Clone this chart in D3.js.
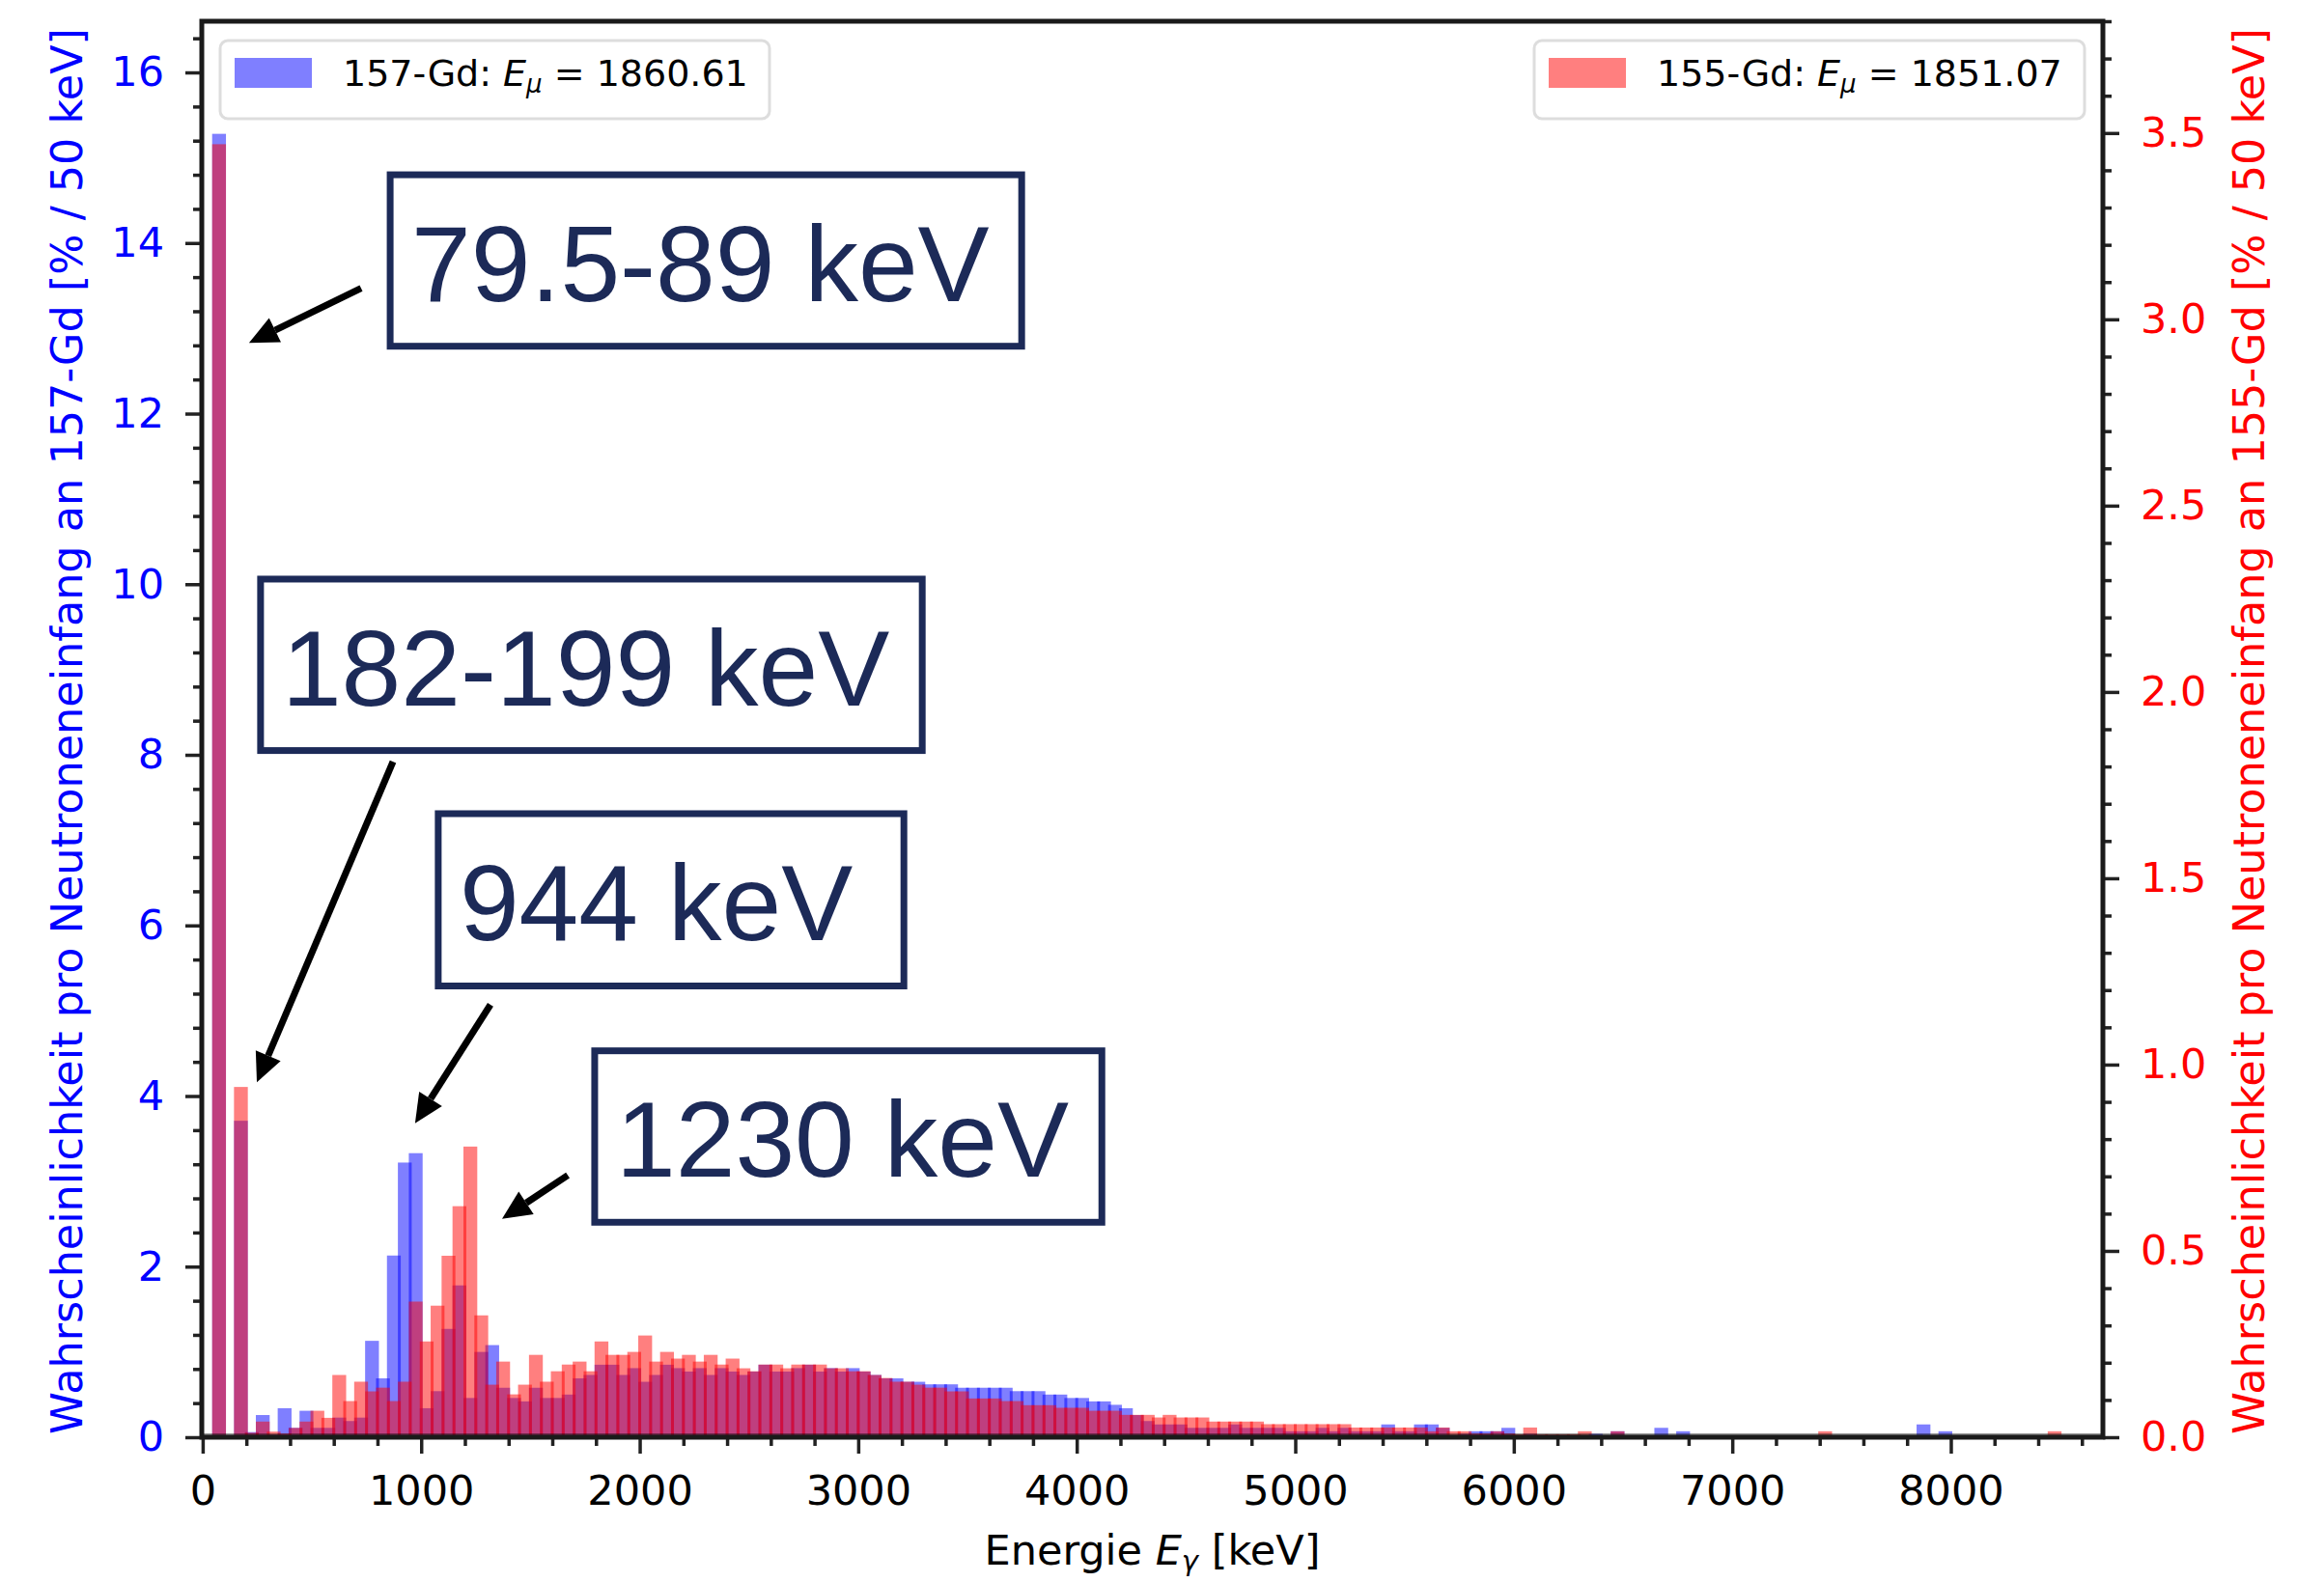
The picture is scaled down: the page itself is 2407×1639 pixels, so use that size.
<!DOCTYPE html>
<html lang="de">
<head>
<meta charset="UTF-8">
<title>Gd gamma spectrum</title>
<script src="https://d3js.org/d3.v7.min.js"></script>
<style>
  body { margin: 0; background: #fff; }
  text { font-family: "DejaVu Sans", sans-serif; }
</style>
</head>
<body>
<div id="chart"></div>
<script>
// 50 keV bins, index k covers [50k, 50k+50)
const binWidth = 50;

// 157-Gd, left axis [% / 50 keV]
const gd157 = [
  0, 15.28, 0.02, 3.71, 0.06, 0.26, 0.03, 0.34, 0.11, 0.31,
  0.11, 0.11, 0.23, 0.19, 0.23, 1.13, 0.69, 2.13, 3.22, 3.33,
  0.34, 0.54, 1.27, 1.78, 0.46, 1.00, 1.08, 0.58, 0.46, 0.42,
  0.58, 0.46, 0.46, 0.50, 0.69, 0.73, 0.85, 0.85, 0.73, 0.81,
  0.65, 0.73, 0.85, 0.81, 0.77, 0.81, 0.73, 0.81, 0.77, 0.73,
  0.77, 0.85, 0.77, 0.77, 0.81, 0.85, 0.77, 0.81, 0.77, 0.81,
  0.77, 0.73, 0.69, 0.69, 0.65, 0.65, 0.62, 0.62, 0.62, 0.58,
  0.58, 0.58, 0.58, 0.58, 0.54, 0.54, 0.54, 0.50, 0.50, 0.46,
  0.46, 0.42, 0.42, 0.38, 0.34, 0.26, 0.19, 0.15, 0.15, 0.15,
  0.11, 0.11, 0.11, 0.11, 0.15, 0.11, 0.11, 0.11, 0.11, 0.07,
  0.07, 0.07, 0.11, 0.07, 0.11, 0.07, 0.07, 0.07, 0.15, 0.07,
  0.07, 0.15, 0.15, 0.11, 0.02, 0.04, 0.07, 0.07, 0.07, 0.11,
  0.02, 0.04, 0.02, 0.02, 0.01, 0.02, 0.02, 0.04, 0.01, 0.07,
  0.01, 0.01, 0.01, 0.11, 0.01, 0.07, 0.01, 0.01, 0, 0,
  0, 0, 0, 0, 0, 0.02, 0.02, 0, 0, 0,
  0, 0, 0, 0, 0, 0, 0, 0.15, 0, 0.07,
  0, 0, 0, 0, 0, 0, 0, 0, 0, 0,
  0, 0, 0, 0
];

// 155-Gd, right axis [% / 50 keV]
const gd155 = [
  0, 3.47, 0.005, 0.94, 0.012, 0.042, 0.015, 0.01, 0.025, 0.042,
  0.071, 0.052, 0.167, 0.097, 0.149, 0.123, 0.133, 0.097, 0.149, 0.364,
  0.257, 0.353, 0.487, 0.62, 0.78, 0.327, 0.141, 0.203, 0.115, 0.141,
  0.221, 0.149, 0.177, 0.195, 0.203, 0.177, 0.257, 0.221, 0.221, 0.229,
  0.273, 0.203, 0.229, 0.211, 0.221, 0.203, 0.221, 0.195, 0.211, 0.185,
  0.177, 0.195, 0.195, 0.185, 0.195, 0.195, 0.195, 0.185, 0.185, 0.177,
  0.177, 0.167, 0.159, 0.149, 0.149, 0.141, 0.133, 0.133, 0.123, 0.123,
  0.104, 0.104, 0.104, 0.097, 0.097, 0.086, 0.086, 0.086, 0.079, 0.079,
  0.079, 0.071, 0.071, 0.071, 0.06, 0.06, 0.06, 0.053, 0.06, 0.053,
  0.053, 0.053, 0.042, 0.042, 0.042, 0.042, 0.042, 0.035, 0.035, 0.035,
  0.035, 0.035, 0.035, 0.035, 0.035, 0.026, 0.026, 0.026, 0.026, 0.026,
  0.026, 0.026, 0.016, 0.026, 0.016, 0.016, 0.01, 0.01, 0.016, 0.01,
  0.008, 0.026, 0.008, 0.008, 0.008, 0.008, 0.016, 0.005, 0.005, 0.016,
  0.005, 0.005, 0.005, 0.005, 0.005, 0.005, 0.003, 0.003, 0.003, 0.003,
  0, 0, 0, 0, 0, 0.005, 0.005, 0, 0.016, 0,
  0.005, 0, 0, 0, 0, 0, 0, 0, 0, 0,
  0, 0, 0, 0, 0, 0, 0, 0, 0, 0.016,
  0.005, 0, 0, 0
];

const legendLabels = [["157-Gd: ", "1860.61"], ["155-Gd: ", "1851.07"]];
const xTicks = [0, 1000, 2000, 3000, 4000, 5000, 6000, 7000, 8000];
const yLeftTicks = [0, 2, 4, 6, 8, 10, 12, 14, 16];
const yRightTicks = [0, 0.5, 1.0, 1.5, 2.0, 2.5, 3.0, 3.5];

// annotations in data coordinates (keV, left-axis units)
const annoLabels = ["79.5-89 keV", "182-199 keV", "944 keV", "1230 keV"];
const annoBoxX = [[858, 3748], [265, 3293], [1078, 3209], [1794, 4115]];
const annoBoxY = [[14.80, 12.79], [10.06, 8.05], [7.31, 5.29], [4.53, 2.52]];
const arrowFrom = [[725, 13.47], [871, 7.92], [1317, 5.07], [1671, 3.07]];
const arrowTo = [[212, 12.83], [248, 4.16], [972, 3.68], [1370, 2.56]];

const W = 2407, H = 1639;
const margin = { top: 22, right: 2407 - 2178, bottom: 1639 - 1489, left: 209 };
const pw = W - margin.left - margin.right;
const ph = H - margin.top - margin.bottom;

const svg = d3.select("#chart").append("svg")
  .attr("width", W).attr("height", H);
svg.append("rect").attr("width", W).attr("height", H).attr("fill", "#fff");

const g = svg.append("g").attr("transform", `translate(${margin.left},${margin.top})`);

const x = d3.scaleLinear().domain([-4, 8696]).range([0, pw]);
const yL = d3.scaleLinear().domain([0, 16.6]).range([ph, 0]);
const yR = d3.scaleLinear().domain([0, 3.8]).range([ph, 0]);

// bars (slightly wider than bin so neighbouring edges overlap like the original raster)
function drawBars(values, scale, color) {
  g.append("g").selectAll("rect")
    .data(values.map((v, k) => ({ x0: k * binWidth, v })).filter(d => d.v > 0))
    .enter().append("rect")
    .attr("x", d => x(d.x0) - 1.5)
    .attr("width", d => x(d.x0 + binWidth) - x(d.x0) + 3)
    .attr("y", d => scale(d.v))
    .attr("height", d => scale(0) - scale(d.v))
    .attr("fill", color)
    .attr("fill-opacity", 0.5);
}
drawBars(gd157, yL, "#0000ff");
drawBars(gd155, yR, "#ff0000");

// dark strip along the baseline
g.append("rect")
  .attr("x", 0).attr("y", ph - 4).attr("width", pw).attr("height", 4)
  .attr("fill", "#000").attr("fill-opacity", 0.42);

// axes
function styleAxis(sel, color, size) {
  sel.select(".domain").remove();
  sel.selectAll(".tick line").attr("stroke", "#222").attr("stroke-width", 3.5);
  sel.selectAll(".tick text").attr("fill", color)
    .style("font-size", size + "px").style("font-family", "DejaVu Sans");
}

const xMinor = d3.range(200, 8700, 200).filter(v => v % 1000 !== 0);
g.append("g").attr("transform", `translate(0,${ph})`)
  .call(d3.axisBottom(x).tickValues(xMinor).tickSize(9).tickFormat(""))
  .call(s => styleAxis(s, "#000", 43));
g.append("g").attr("transform", `translate(0,${ph})`)
  .call(d3.axisBottom(x).tickValues(xTicks).tickSize(17).tickPadding(22).tickFormat(d3.format("d")))
  .call(s => styleAxis(s, "#000", 43));

const yLMinor = d3.range(0.4, 16.6, 0.4).filter(v => Math.abs(v / 2 - Math.round(v / 2)) > 1e-6);
g.append("g")
  .call(d3.axisLeft(yL).tickValues(yLMinor).tickSize(9).tickFormat(""))
  .call(s => styleAxis(s, "#00f", 43));
g.append("g")
  .call(d3.axisLeft(yL).tickValues(yLeftTicks).tickSize(17).tickPadding(22).tickFormat(d3.format("d")))
  .call(s => styleAxis(s, "#0000ff", 43));

const yRMinor = d3.range(0.1, 3.81, 0.1).filter(v => Math.abs(v * 2 - Math.round(v * 2)) > 1e-6);
g.append("g").attr("transform", `translate(${pw},0)`)
  .call(d3.axisRight(yR).tickValues(yRMinor).tickSize(9).tickFormat(""))
  .call(s => styleAxis(s, "#f00", 43));
g.append("g").attr("transform", `translate(${pw},0)`)
  .call(d3.axisRight(yR).tickValues(yRightTicks).tickSize(17).tickPadding(22).tickFormat(d3.format(".1f")))
  .call(s => styleAxis(s, "#ff0000", 43));

// frame
g.append("rect")
  .attr("x", 0).attr("y", 0).attr("width", pw).attr("height", ph)
  .attr("fill", "none").attr("stroke", "#1a1a1a").attr("stroke-width", 5);

// axis labels
svg.append("text")
  .attr("transform", `translate(69,${margin.top + ph / 2 + 2}) rotate(-90)`)
  .attr("text-anchor", "middle").attr("dominant-baseline", "central")
  .attr("fill", "#0000ff").style("font-size", "44.5px")
  .text("Wahrscheinlichkeit pro Neutroneneinfang an 157-Gd [% / 50 keV]");
svg.append("text")
  .attr("transform", `translate(2329,${margin.top + ph / 2 + 2}) rotate(-90)`)
  .attr("text-anchor", "middle").attr("dominant-baseline", "central")
  .attr("fill", "#ff0000").style("font-size", "44.5px")
  .text("Wahrscheinlichkeit pro Neutroneneinfang an 155-Gd [% / 50 keV]");

const xl = svg.append("text")
  .attr("x", margin.left + pw / 2).attr("y", 1621)
  .attr("text-anchor", "middle").attr("fill", "#000").style("font-size", "43px");
xl.append("tspan").text("Energie ");
xl.append("tspan").style("font-style", "italic").text("E");
xl.append("tspan").style("font-style", "italic").style("font-size", "29px").attr("dy", 6).text("γ");
xl.append("tspan").attr("dy", -6).text(" [keV]");

// legends
function legend(x0, x1, color, label) {
  const lg = svg.append("g");
  lg.append("rect").attr("x", x0).attr("y", 42).attr("width", x1 - x0).attr("height", 81)
    .attr("rx", 8).attr("fill", "#fff").attr("stroke", "#dddddd").attr("stroke-width", 3);
  lg.append("rect").attr("x", x0 + 15).attr("y", 60).attr("width", 80).attr("height", 31)
    .attr("fill", color).attr("fill-opacity", 0.5);
  const t = lg.append("text").attr("x", x0 + 127).attr("y", 89)
    .attr("fill", "#000").style("font-size", "38px");
  t.append("tspan").text(label[0]);
  t.append("tspan").style("font-style", "italic").text("E");
  t.append("tspan").style("font-style", "italic").style("font-size", "26px").attr("dy", 7).text("μ");
  t.append("tspan").attr("dy", -7).text(" = " + label[1]);
}
legend(228, 797, "#0000ff", legendLabels[0]);
legend(1589, 2159, "#ff0000", legendLabels[1]);

// annotations
const navy = "#1c2a58";
annoLabels.forEach((lab, i) => {
  const bx0 = x(annoBoxX[i][0]), bx1 = x(annoBoxX[i][1]);
  const by0 = yL(annoBoxY[i][0]), by1 = yL(annoBoxY[i][1]);
  g.append("rect").attr("x", bx0).attr("y", by0)
    .attr("width", bx1 - bx0).attr("height", by1 - by0)
    .attr("fill", "#fff").attr("stroke", navy).attr("stroke-width", 7);
  g.append("text").attr("x", bx0 + 22).attr("y", (by0 + by1) / 2 + 42)
    .attr("fill", navy)
    .style("font-family", "'Liberation Sans', Arial, sans-serif")
    .style("font-size", "111px")
    .text(lab);

  const fx = x(arrowFrom[i][0]), fy = yL(arrowFrom[i][1]);
  const tx = x(arrowTo[i][0]), ty = yL(arrowTo[i][1]);
  const ang = Math.atan2(ty - fy, tx - fx);
  const hl = 30, hw = 14;
  const bxp = tx - hl * Math.cos(ang), byp = ty - hl * Math.sin(ang);
  g.append("line").attr("x1", fx).attr("y1", fy).attr("x2", bxp).attr("y2", byp)
    .attr("stroke", "#000").attr("stroke-width", 7);
  g.append("path")
    .attr("d", `M${tx},${ty}L${bxp + hw * Math.sin(ang)},${byp - hw * Math.cos(ang)}L${bxp - hw * Math.sin(ang)},${byp + hw * Math.cos(ang)}Z`)
    .attr("fill", "#000");
});
</script>
</body>
</html>
